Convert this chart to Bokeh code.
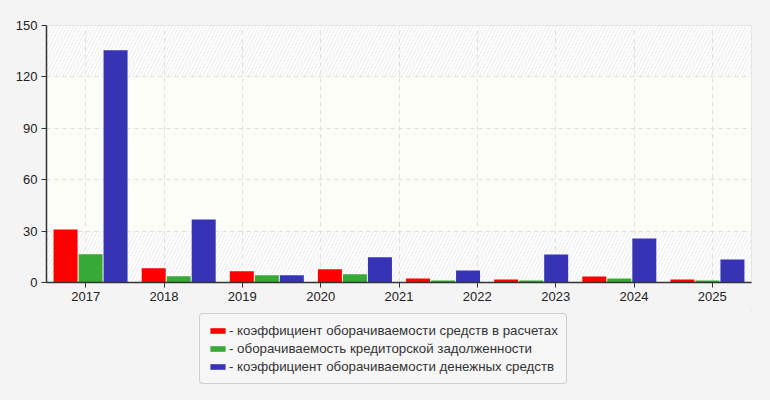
from bokeh.plotting import figure
from bokeh.layouts import column
from bokeh.models import (ColumnDataSource, Range1d, FixedTicker, Legend, LegendItem,
                          BoxAnnotation)
from bokeh.embed import file_html
from bokeh.resources import INLINE

years = ["2017", "2018", "2019", "2020", "2021", "2022", "2023", "2024", "2025"]
series_names = [
    "- коэффициент оборачиваемости средств в расчетах",
    "- оборачиваемость кредиторской задолженности",
    "- коэффициент оборачиваемости денежных средств",
]
red_vals = [30.9, 8.3, 6.6, 7.8, 2.3, 1.75, 3.5, 1.75]
green_vals = [16.5, 3.7, 4.3, 4.8, 1.2, 1.2, 2.3, 1.2]
blue_vals = [135.6, 36.8, 4.3, 14.8, 7.0, 16.3, 25.7, 13.4]
y_ticks = [0, 30, 60, 90, 120, 150]
colors = ["#ff0000", "#36a936", "#3634b4"]

FONT = "Liberation Sans"
BG = "#f4f4f4"
W = 770
H1, H2 = 310, 90
frame_w = 705
frame_h = 257
n_lab = len(years)
px_per_unit = frame_w / n_lab
n_grp = len(red_vals)
grp_w = n_lab / n_grp
bar_w = 24.0 / px_per_unit
step = 25.0 / px_per_unit

p = figure(width=W, height=H1, output_backend="svg", toolbar_location=None,
           x_range=Range1d(0, n_lab), y_range=Range1d(0, 150),
           min_border_left=46, min_border_right=W - 46 - frame_w, min_border_top=25,
           min_border_bottom=H1 - 25 - frame_h)
p.background_fill_color = "#ffffff"
p.border_fill_color = BG
p.outline_line_color = "#dcdcdc"
p.outline_line_width = 1

# background bands
for lo, hi in ((120, 150), (0, 30)):
    p.add_layout(BoxAnnotation(bottom=lo, top=hi, fill_color="#ffffff", fill_alpha=1,
                               hatch_pattern="/", hatch_color="#e9e9e9", hatch_scale=7,
                               hatch_weight=1, line_alpha=0, level="image"))
p.add_layout(BoxAnnotation(bottom=30, top=120, fill_color="#fcfdf6", fill_alpha=1,
                           line_alpha=0, level="image"))

renderers = []
for k, vals in enumerate([red_vals, green_vals, blue_vals]):
    xs = [(i + 0.5) * grp_w + (k - 1) * step for i in range(n_grp)]
    src = ColumnDataSource(dict(x=xs, top=vals))
    r = p.vbar(x="x", top="top", bottom=0, width=bar_w, source=src,
               fill_color=colors[k], line_color=None)
    renderers.append(r)

tick_pos = [i + 0.5 for i in range(n_lab)]
p.xaxis.ticker = FixedTicker(ticks=tick_pos)
p.xaxis.major_label_overrides = {t: y for t, y in zip(tick_pos, years)}
p.yaxis.ticker = FixedTicker(ticks=y_ticks)

for ax in (p.xaxis, p.yaxis):
    ax.axis_line_color = "#333333"
    ax.axis_line_width = 1.5
    ax.major_tick_line_color = "#333333"
    ax.major_tick_in = 0
    ax.major_tick_out = 5
    ax.minor_tick_line_color = None
    ax.major_label_text_font = FONT
    ax.major_label_text_font_size = "13px"
    ax.major_label_text_color = "#222222"
p.yaxis.major_label_standoff = 4
p.xaxis.major_label_standoff = 4

p.xgrid.ticker = FixedTicker(ticks=tick_pos)
p.ygrid.ticker = FixedTicker(ticks=y_ticks)
for g in (p.xgrid, p.ygrid):
    g.grid_line_color = "#dddddd"
    g.grid_line_dash = "4 4"
    g.grid_line_width = 1

# legend strip below the chart (swatches use the same bar colours)
q = figure(width=W, height=H2, output_backend="svg", toolbar_location=None,
           x_range=Range1d(0, 1), y_range=Range1d(0, 1),
           x_axis_location=None, y_axis_location=None,
           min_border_left=0, min_border_right=0, min_border_top=0, min_border_bottom=0)
q.grid.visible = False
q.outline_line_color = None
q.background_fill_color = BG
q.border_fill_color = BG
leg_r = []
for k in range(3):
    leg_r.append(q.vbar(x=[5], top=[5], bottom=4, width=0.1,
                        fill_color=colors[k], line_color=None))

legend = Legend(items=[LegendItem(label=n, renderers=[r]) for n, r in zip(series_names, leg_r)],
                location=(153, 16), orientation="vertical")
legend.label_text_font = FONT
legend.label_text_font_size = "13.3px"
legend.label_text_color = "#333333"
legend.glyph_width = 19
legend.glyph_height = 7
legend.label_height = 17
legend.label_standoff = 2
legend.spacing = 1
legend.padding = 8
legend.margin = 0
legend.border_line_color = "#a8a8a8"
legend.background_fill_color = "#f6f6f6"
legend.background_fill_alpha = 1
try:
    legend.border_radius = 4
except Exception:
    pass
q.add_layout(legend, "center")

layout = column(p, q, spacing=0, styles={"background-color": BG})
open("out.html", "w").write(file_html(layout, INLINE))
